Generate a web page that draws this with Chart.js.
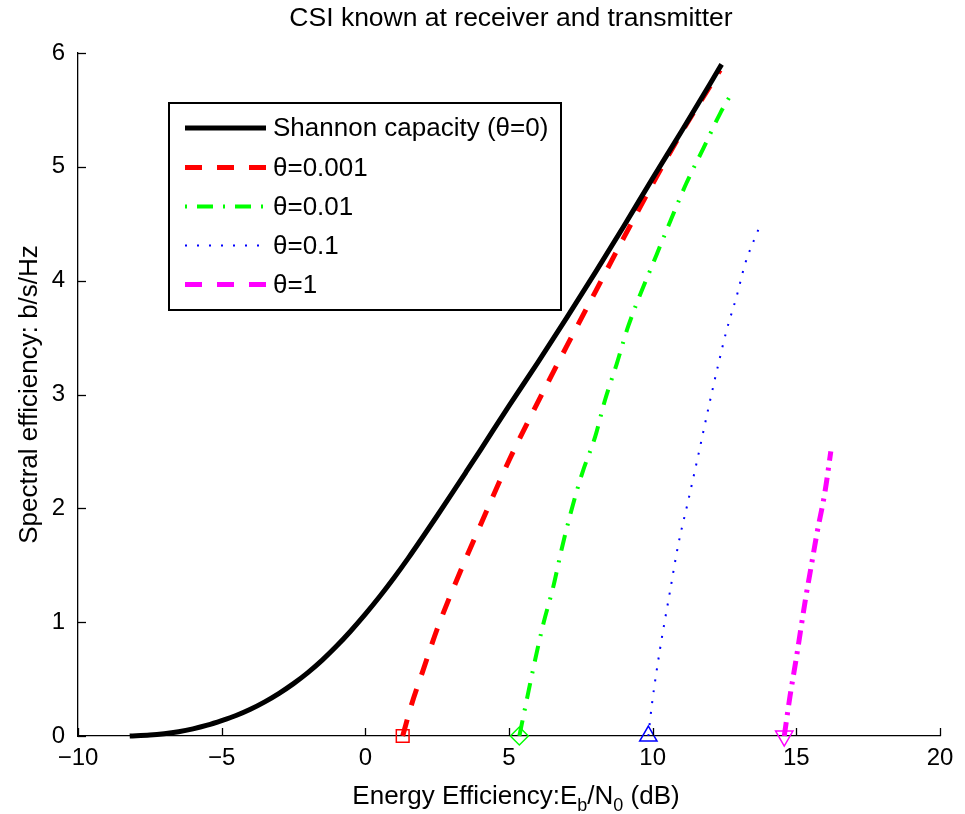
<!DOCTYPE html>
<html><head><meta charset="utf-8">
<script src="https://cdn.jsdelivr.net/npm/chart.js@4"></script>
<style>html,body{margin:0;padding:0;background:#fff;}#wrap{width:965px;height:814px;position:relative;}</style>
</head><body><div id="wrap"><canvas id="c" width="965" height="814"></canvas></div>
<script>
// ---- data ----
const chartTitle = 'CSI known at receiver and transmitter';
const yTitle = 'Spectral efficiency: b/s/Hz';
const seriesNames = ['Shannon capacity (\u03b8=0)', '\u03b8=0.001', '\u03b8=0.01', '\u03b8=0.1', '\u03b8=1'];
const xTicks = [-10, -5, 0, 5, 10, 15, 20];
const yTicks = [0, 1, 2, 3, 4, 5, 6];

const shannonX = [-8.2, -7.5, -7, -6.5, -6, -5.5, -5, -4.5, -4, -3.5, -3, -2.5, -2, -1.5, -1, -0.5, 0, 0.5, 1, 1.5, 2, 2.5, 3, 3.5, 4, 5, 6, 7, 8, 9, 10, 11, 12, 12.4];
const shannonY = [0, 0.008, 0.02, 0.038, 0.063, 0.095, 0.135, 0.18, 0.235, 0.30, 0.375, 0.46, 0.557, 0.667, 0.79, 0.925, 1.07, 1.225, 1.39, 1.565, 1.748, 1.935, 2.125, 2.317, 2.51, 2.90, 3.28, 3.67, 4.07, 4.48, 4.90, 5.31, 5.73, 5.90];

const theta0001X = [1.3, 1.6, 2, 2.5, 3, 3.5, 4, 5, 6, 7, 8, 9, 10, 11, 12.35];
const theta0001Y = [0, 0.27, 0.57, 0.94, 1.26, 1.56, 1.85, 2.42, 2.93, 3.42, 3.90, 4.38, 4.85, 5.30, 5.85];

const theta001X = [5.36, 5.62, 5.91, 6.2, 6.54, 6.84, 7.18, 7.55, 8.0, 8.34, 8.75, 9.15, 10.14, 10.66, 11.18, 11.76, 12.35, 12.69];
const theta001Y = [0, 0.32, 0.67, 0.99, 1.31, 1.65, 1.99, 2.31, 2.63, 2.95, 3.27, 3.60, 4.23, 4.55, 4.86, 5.16, 5.47, 5.62];

const theta01X = [9.85, 9.97, 10.26, 10.61, 10.89, 11.24, 11.59, 11.94, 12.29, 12.58, 12.92, 13.22, 13.68];
const theta01Y = [0, 0.27, 0.77, 1.28, 1.68, 2.07, 2.47, 2.88, 3.27, 3.57, 3.86, 4.15, 4.45];

const theta1X = [14.58, 14.78, 14.99, 15.33, 15.51, 15.71, 16.0, 16.2];
const theta1Y = [0, 0.35, 0.67, 1.22, 1.48, 1.77, 2.15, 2.50];

// ---- styles ----
const FONT = '"Liberation Sans", Arial, Helvetica, sans-serif';
const styles = [
  {color:'#000000', width:5, dash:[], legendDash:[], marker:false},
  {color:'#ff0000', width:5, dash:[17,15], legendDash:[17,15], marker:'rect', r:9, rot:0},
  {color:'#00ff00', width:4, dash:[16,10,2,10], legendDash:[2,10,16,10], marker:'rectRot', r:9, rot:0},
  {color:'#0000ff', width:2, dash:[2,9], legendDash:[2,10], marker:'triangle', r:10, rot:0},
  {color:'#ff00ff', width:5, dash:[14,7,3,7], legendDash:[17,15], marker:'triangle', r:10, rot:180}
];
const xs = [shannonX, theta0001X, theta001X, theta01X, theta1X];
const ys = [shannonY, theta0001Y, theta001Y, theta01Y, theta1Y];

const datasets = xs.map((xa, i) => {
  const s = styles[i];
  return {
    label: seriesNames[i],
    data: xa.map((x, k) => ({x: x, y: ys[i][k]})),
    showLine: true,
    clip: false,
    borderColor: s.color,
    backgroundColor: 'rgba(0,0,0,0)',
    borderWidth: s.width,
    borderDash: s.dash,
    borderCapStyle: 'butt',
    borderJoinStyle: 'round',
    cubicInterpolationMode: 'monotone',
    pointStyle: s.marker || 'circle',
    pointRotation: s.rot || 0,
    pointRadius: (c) => (s.marker && c.dataIndex === 0) ? s.r : 0,
    pointBorderColor: s.color,
    pointBackgroundColor: 'rgba(0,0,0,0)',
    pointBorderWidth: 1.5,
    pointHoverRadius: 0
  };
});

const decorPlugin = {
  id: 'decor',
  afterDraw(chart) {
    const ctx = chart.ctx;
    const xs_ = chart.scales.x, ys_ = chart.scales.y;
    const a = chart.chartArea;
    ctx.save();
    // inward ticks
    ctx.strokeStyle = '#000'; ctx.lineWidth = 1.3; ctx.setLineDash([]);
    xTicks.forEach(v => {
      const p = Math.round(xs_.getPixelForValue(v)) + 0.5;
      ctx.beginPath(); ctx.moveTo(p, a.bottom); ctx.lineTo(p, a.bottom - 8); ctx.stroke();
    });
    yTicks.forEach(v => {
      const p = Math.round(ys_.getPixelForValue(v)) + 0.5;
      ctx.beginPath(); ctx.moveTo(a.left, p); ctx.lineTo(a.left + 8, p); ctx.stroke();
    });
    // title
    ctx.fillStyle = '#000';
    ctx.font = '26.5px ' + FONT;
    ctx.textAlign = 'center'; ctx.textBaseline = 'middle';
    ctx.fillText(chartTitle, (a.left + a.right) / 2 + 2, 19);
    // y title
    ctx.font = '26px ' + FONT;
    ctx.save();
    ctx.translate(30, (a.top + a.bottom) / 2);
    ctx.rotate(-Math.PI / 2);
    ctx.fillText(yTitle, 0, 0);
    ctx.restore();
    // x title with subscripts
    const parts = [
      {t:'Energy Efficiency:E', sub:false},
      {t:'b', sub:true},
      {t:'/N', sub:false},
      {t:'0', sub:true},
      {t:' (dB)', sub:false}
    ];
    const mainF = '26px ' + FONT, subF = '18px ' + FONT;
    let total = 0;
    parts.forEach(p => { ctx.font = p.sub ? subF : mainF; p.w = ctx.measureText(p.t).width; total += p.w; });
    let x0 = 516 - total / 2;
    const base = 804;
    ctx.textAlign = 'left'; ctx.textBaseline = 'alphabetic';
    parts.forEach(p => {
      ctx.font = p.sub ? subF : mainF;
      ctx.fillText(p.t, x0, p.sub ? base + 7 : base);
      x0 += p.w;
    });
    // legend
    const L = {x1:169, y1:103, x2:561, y2:310};
    ctx.fillStyle = '#fff';
    ctx.fillRect(L.x1, L.y1, L.x2 - L.x1, L.y2 - L.y1);
    ctx.strokeStyle = '#000'; ctx.lineWidth = 2;
    ctx.strokeRect(L.x1, L.y1, L.x2 - L.x1, L.y2 - L.y1);
    const rows = [128, 167.5, 206.5, 245.5, 284.5];
    ctx.font = mainF; ctx.textBaseline = 'middle'; ctx.textAlign = 'left';
    rows.forEach((ry, i) => {
      const s = styles[i];
      ctx.strokeStyle = s.color; ctx.lineWidth = s.width; ctx.lineCap = 'butt';
      ctx.setLineDash(s.legendDash);
      ctx.beginPath(); ctx.moveTo(185, ry); ctx.lineTo(266, ry); ctx.stroke();
      ctx.setLineDash([]);
      ctx.fillStyle = '#000';
      ctx.fillText(seriesNames[i], 273, ry + 1);
    });
    ctx.restore();
  }
};

new Chart(document.getElementById('c').getContext('2d'), {
  type: 'scatter',
  data: {datasets: datasets},
  options: {
    responsive: false,
    animation: false,
    events: [],
    layout: {padding: {top: 53, right: 25, left: 0, bottom: 0}},
    plugins: {legend: {display: false}, title: {display: false}, tooltip: {enabled: false}},
    scales: {
      x: {
        type: 'linear', min: -10, max: 20,
        afterBuildTicks: (s) => { s.ticks = xTicks.map(v => ({value: v})); },
        ticks: {color: '#000', font: {family: FONT, size: 24}, padding: 8, maxRotation: 0,
          callback: (v) => v < 0 ? '\u2212' + Math.abs(v) : String(v)},
        grid: {display: false, drawTicks: false},
        border: {display: true, color: '#000', width: 1.3},
        afterFit: (s) => { s.height = 78; }
      },
      y: {
        type: 'linear', min: 0, max: 6,
        afterBuildTicks: (s) => { s.ticks = yTicks.map(v => ({value: v})); },
        ticks: {color: '#000', font: {family: FONT, size: 24}, padding: 13,
          callback: (v) => String(v)},
        grid: {display: false, drawTicks: false},
        border: {display: true, color: '#000', width: 1.3},
        afterFit: (s) => { s.width = 78; }
      }
    }
  },
  plugins: [decorPlugin]
});
</script>
</body></html>
